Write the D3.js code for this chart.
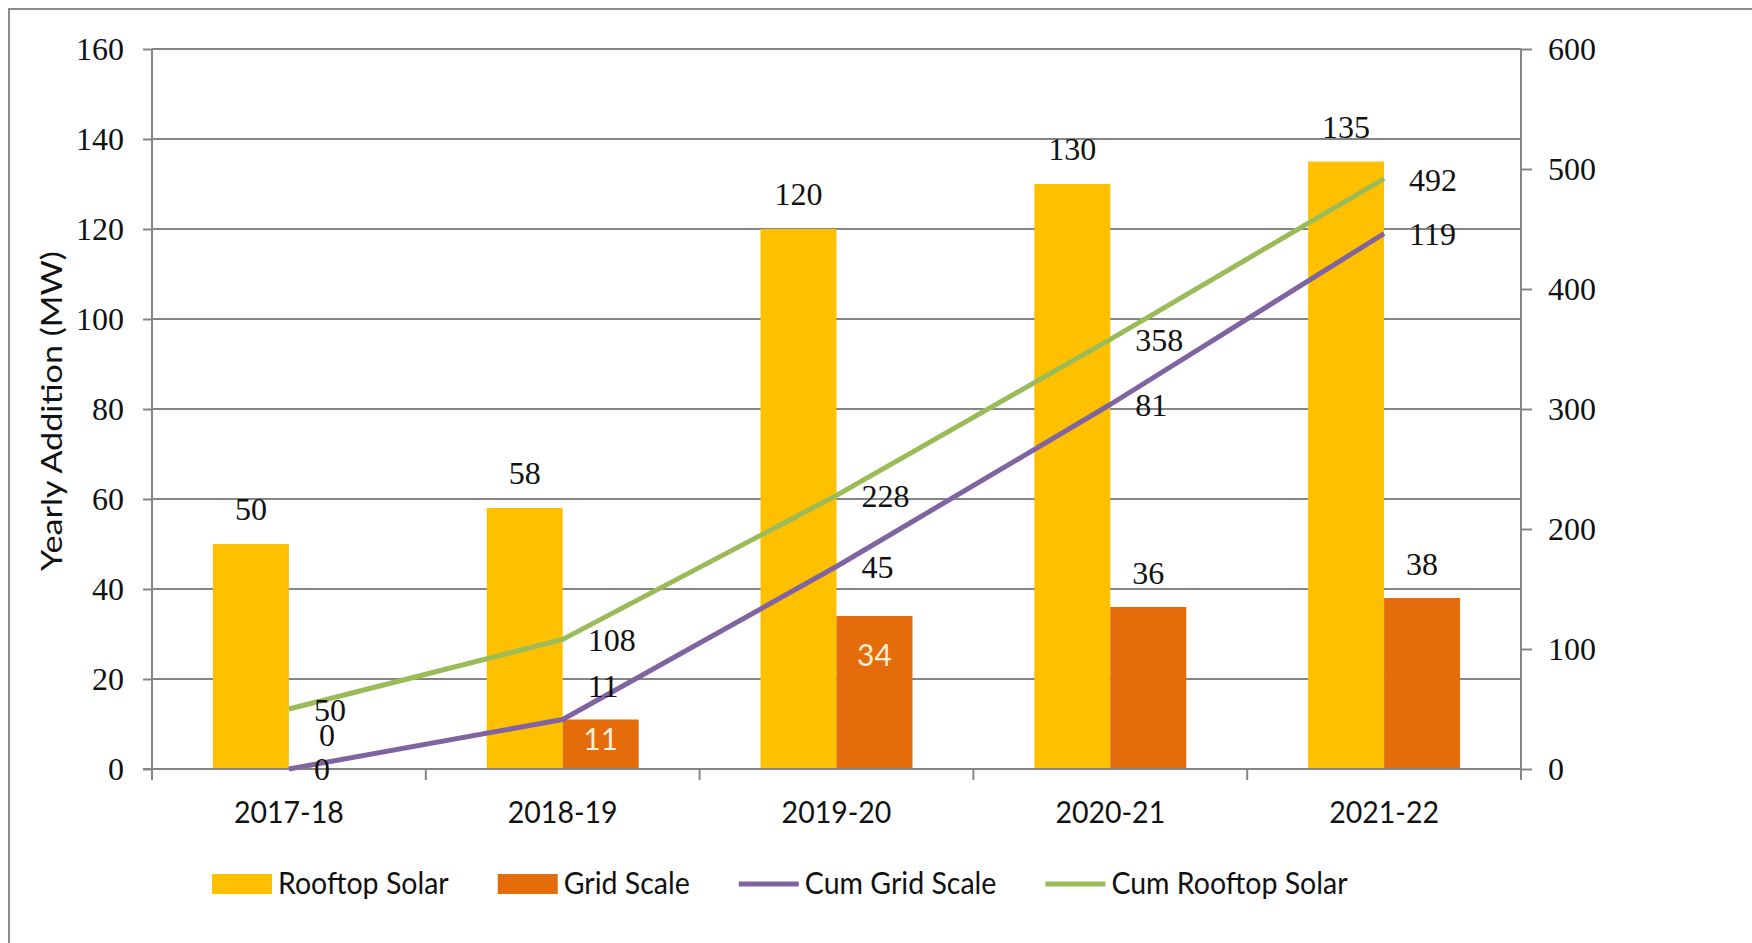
<!DOCTYPE html>
<html>
<head>
<meta charset="utf-8">
<script src="https://cdn.jsdelivr.net/npm/d3@7"></script>
<style>
  html, body { margin: 0; padding: 0; background: #fff; }
  svg { display: block; }
</style>
</head>
<body>
<svg id="chart" width="1752" height="943"></svg>
<script>
// Solar capacity additions by financial year
const categories = ["2017-18", "2018-19", "2019-20", "2020-21", "2021-22"];
const rooftopSolar = [50, 58, 120, 130, 135];
const gridScale = [0, 11, 34, 36, 38];
const cumGridScale = [0, 11, 45, 81, 119];
const cumRooftopSolar = [50, 108, 228, 358, 492];
const leftTicks = [0, 20, 40, 60, 80, 100, 120, 140, 160];
const rightTicks = [0, 100, 200, 300, 400, 500, 600];
const seriesNames = ["Rooftop Solar", "Grid Scale", "Cum Grid Scale", "Cum Rooftop Solar"];
const yTitle = "Yearly Addition (MW)";

const COLORS = {
  rooftop: "#FFC000",
  grid: "#E46C0A",
  cumGrid: "#8064A2",
  cumRooftop: "#9BBB59",
  axis: "#858585",
  text: "#111111",
  inside: "#FDEFD8"
};
const SANS = "Lato, 'Open Sans', sans-serif";
const SERIF = "'Liberation Serif', 'DejaVu Serif', serif";

const svg = d3.select("#chart");

// condense a sans label horizontally by a fixed ratio of its natural width;
// the resulting width is stored on the node for layout
function squeeze(sel, k) {
  sel.each(function () {
    const w = this.getComputedTextLength() * k;
    this.__fitWidth = w;
    d3.select(this).attr("textLength", w).attr("lengthAdjust", "spacingAndGlyphs");
  });
}

function draw() {
  const plot = { left: 152, right: 1521, top: 49, bottom: 769 };

  // chart frame
  svg.append("rect")
    .attr("x", 9).attr("y", 9)
    .attr("width", 1800).attr("height", 1000)
    .attr("fill", "#fff")
    .attr("stroke", "#8c8c8c").attr("stroke-width", 2);

  const x = d3.scaleBand()
    .domain(categories)
    .range([plot.left, plot.right])
    .paddingInner(0.445)
    .paddingOuter(0.2225);
  const xSub = d3.scaleBand()
    .domain(["rooftop", "grid"])
    .range([0, x.bandwidth()]);
  const yL = d3.scaleLinear().domain([0, 160]).range([plot.bottom, plot.top]);
  const yR = d3.scaleLinear().domain([0, 600]).range([plot.bottom, plot.top]);
  const cx = c => x(c) + x.bandwidth() / 2;

  // horizontal gridlines from the left axis
  svg.append("g")
    .selectAll("line")
    .data(leftTicks.filter(t => t > 0))
    .join("line")
    .attr("x1", plot.left).attr("x2", plot.right)
    .attr("y1", d => yL(d)).attr("y2", d => yL(d))
    .attr("stroke", COLORS.axis).attr("stroke-width", 2);

  // left axis
  const leftAxis = svg.append("g")
    .attr("transform", `translate(${plot.left},0)`)
    .call(d3.axisLeft(yL).tickValues(leftTicks).tickSize(9).tickPadding(19).tickSizeOuter(0));
  leftAxis.select(".domain").remove();
  leftAxis.selectAll(".tick line").attr("stroke", COLORS.axis).attr("stroke-width", 2);
  leftAxis.selectAll(".tick text")
    .attr("font-family", SERIF).attr("font-size", 32).attr("fill", COLORS.text)
    .attr("dy", "0.34em");

  // right axis
  const rightAxis = svg.append("g")
    .attr("transform", `translate(${plot.right},0)`)
    .call(d3.axisRight(yR).tickValues(rightTicks).tickSize(11).tickPadding(16).tickSizeOuter(0));
  rightAxis.select(".domain").remove();
  rightAxis.selectAll(".tick line").attr("stroke", COLORS.axis).attr("stroke-width", 2);
  rightAxis.selectAll(".tick text")
    .attr("font-family", SERIF).attr("font-size", 32).attr("fill", COLORS.text)
    .attr("dy", "0.34em");

  // category axis tick marks at band edges
  const edges = categories.map(c => x(c) - x.step() * x.paddingInner() / 2)
    .concat([plot.right]);
  edges[0] = plot.left;
  svg.append("g").selectAll("line")
    .data(edges)
    .join("line")
    .attr("x1", d => d).attr("x2", d => d)
    .attr("y1", plot.bottom).attr("y2", plot.bottom + 11)
    .attr("stroke", COLORS.axis).attr("stroke-width", 2);

  // vertical axis lines
  [plot.left, plot.right].forEach(px => {
    svg.append("line")
      .attr("x1", px).attr("x2", px)
      .attr("y1", plot.top).attr("y2", plot.bottom + 11)
      .attr("stroke", COLORS.axis).attr("stroke-width", 2);
  });

  // bars
  const barData = categories.flatMap((c, i) => [
    { cat: c, key: "rooftop", value: rooftopSolar[i] },
    { cat: c, key: "grid", value: gridScale[i] }
  ]);
  svg.append("g").selectAll("rect")
    .data(barData)
    .join("rect")
    .attr("x", d => x(d.cat) + xSub(d.key))
    .attr("width", xSub.bandwidth())
    .attr("y", d => yL(d.value))
    .attr("height", d => yL(0) - yL(d.value))
    .attr("fill", d => COLORS[d.key]);

  // baseline
  svg.append("line")
    .attr("x1", plot.left - 9).attr("x2", plot.right)
    .attr("y1", plot.bottom).attr("y2", plot.bottom)
    .attr("stroke", COLORS.axis).attr("stroke-width", 2);

  // cumulative lines: grid scale on the left axis, rooftop on the right axis
  const linePts = (vals, scale) => categories.map((c, i) => [cx(c), scale(vals[i]), vals[i], c]);
  const gridPts = linePts(cumGridScale, yL);
  const roofPts = linePts(cumRooftopSolar, yR);
  const line = d3.line().x(d => d[0]).y(d => d[1]);
  svg.append("path").datum(roofPts).attr("d", line)
    .attr("fill", "none").attr("stroke", COLORS.cumRooftop).attr("stroke-width", 5)
    .attr("stroke-linejoin", "round");
  svg.append("path").datum(gridPts).attr("d", line)
    .attr("fill", "none").attr("stroke", COLORS.cumGrid).attr("stroke-width", 5)
    .attr("stroke-linejoin", "round");

  // bar value labels
  const labels = svg.append("g").attr("font-family", SERIF).attr("font-size", 32)
    .attr("fill", COLORS.text).attr("text-anchor", "middle");
  labels.selectAll("text.roof")
    .data(categories)
    .join("text").attr("class", "roof")
    .attr("x", c => x(c) + xSub("rooftop") + xSub.bandwidth() / 2)
    .attr("y", (c, i) => yL(rooftopSolar[i]) - 24)
    .text((c, i) => rooftopSolar[i]);

  // grid-scale labels: short bars carry their value inside the bar
  const insideDrop = { "2018-19": 30, "2019-20": 50 };
  categories.forEach((c, i) => {
    const bx = x(c) + xSub("grid") + xSub.bandwidth() / 2;
    const top = yL(gridScale[i]);
    if (insideDrop[c] !== undefined) {
      labels.append("text")
        .attr("x", bx).attr("y", top + insideDrop[c])
        .attr("font-family", SANS).attr("font-size", 30)
        .attr("fill", COLORS.inside)
        .text(gridScale[i]);
    } else {
      labels.append("text")
        .attr("x", bx).attr("y", top - 23)
        .text(gridScale[i]);
    }
  });

  // line value labels, to the right of each point
  const lineLabels = svg.append("g").attr("font-family", SERIF).attr("font-size", 32)
    .attr("fill", COLORS.text);
  lineLabels.selectAll("text.cr")
    .data(roofPts).join("text").attr("class", "cr")
    .attr("x", d => d[0] + 25).attr("y", d => d[1] + 12)
    .text(d => d[2]);
  const raised = { "2018-19": -23 };
  lineLabels.selectAll("text.cg")
    .data(gridPts).join("text").attr("class", "cg")
    .attr("x", d => d[0] + 25)
    .attr("y", d => d[1] + (raised[d[3]] !== undefined ? raised[d[3]] : 11))
    .text(d => d[2]);

  // category labels
  svg.append("g").selectAll("text")
    .data(categories)
    .join("text")
    .attr("x", c => cx(c)).attr("y", 823)
    .attr("text-anchor", "middle")
    .attr("font-family", SANS).attr("font-size", 30).attr("fill", COLORS.text)
    .text(c => c)
    .call(squeeze, 0.95);

  // y-axis title
  svg.append("text")
    .attr("transform", `translate(62,${(plot.top + plot.bottom) / 2 + 2}) rotate(-90)`)
    .attr("text-anchor", "middle")
    .attr("font-family", SANS).attr("font-size", 28).attr("fill", COLORS.text)
    .attr("textLength", 320).attr("lengthAdjust", "spacingAndGlyphs")
    .text(yTitle);

  // legend, laid out left to right
  const legendItems = [
    { name: seriesNames[0], type: "rect", color: COLORS.rooftop },
    { name: seriesNames[1], type: "rect", color: COLORS.grid },
    { name: seriesNames[2], type: "line", color: COLORS.cumGrid },
    { name: seriesNames[3], type: "line", color: COLORS.cumRooftop }
  ];
  const legend = svg.append("g");
  let lx = 212;
  const ly = 884;
  legendItems.forEach(item => {
    if (item.type === "rect") {
      legend.append("rect").attr("x", lx).attr("y", ly - 10)
        .attr("width", 60).attr("height", 20).attr("fill", item.color);
    } else {
      legend.append("line").attr("x1", lx).attr("x2", lx + 60)
        .attr("y1", ly).attr("y2", ly)
        .attr("stroke", item.color).attr("stroke-width", 5);
    }
    const t = legend.append("text")
      .attr("x", lx + 66).attr("y", ly + 10)
      .attr("font-family", SANS).attr("font-size", 31).attr("fill", COLORS.text)
      .text(item.name)
      .call(squeeze, 0.92);
    lx += 66 + t.node().__fitWidth + 49;
  });
}

(document.fonts ? document.fonts.ready : Promise.resolve()).then(draw);
</script>
</body>
</html>
